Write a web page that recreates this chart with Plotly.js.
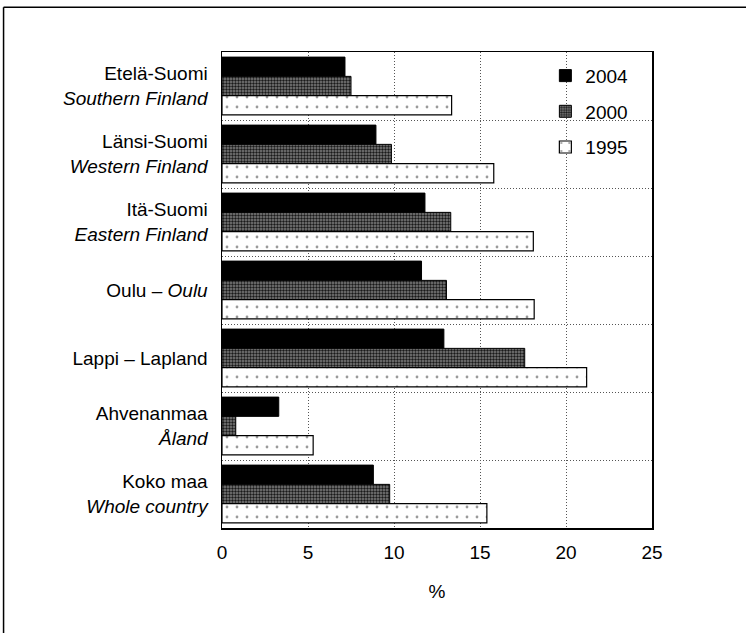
<!DOCTYPE html>
<html>
<head>
<meta charset="utf-8">
<script src="https://cdn.plot.ly/plotly-3.0.1.min.js"></script>
<style>html,body{margin:0;padding:0;background:#fff;}#chart{width:746px;height:633px;}</style>
</head>
<body>
<div id="chart"></div>
<script>
// Categories (top to bottom)
var categories = [
  "Etelä-Suomi<br><i>Southern Finland</i>",
  "Länsi-Suomi<br><i>Western Finland</i>",
  "Itä-Suomi<br><i>Eastern Finland</i>",
  "Oulu – <i>Oulu</i>",
  "Lappi – Lapland",
  "Ahvenanmaa<br><i>Åland</i>",
  "Koko maa<br><i>Whole country</i>"
];
var seriesNames = ["2004", "2000", "1995"];
var values2004 = [7.15, 8.95, 11.8, 11.6, 12.9, 3.3, 8.8];
var values2000 = [7.5, 9.85, 13.3, 13.05, 17.6, 0.8, 9.75];
var values1995 = [13.35, 15.8, 18.1, 18.15, 21.2, 5.3, 15.4];
var xTickVals = [0, 5, 10, 15, 20, 25];

var FONT = "Liberation Sans, Arial, Helvetica, sans-serif";

var traces = [
  {
    type: "bar", orientation: "h", name: seriesNames[0], legendgroup: "a",
    y: categories, x: values2004,
    marker: {color: "#000000", line: {color: "#000000", width: 1}}
  },
  {
    type: "bar", orientation: "h", name: seriesNames[1], legendgroup: "b",
    y: categories, x: values2000,
    marker: {color: "#6e6e6e", line: {color: "#000000", width: 1},
      pattern: {shape: ".", fgcolor: "#1a1a1a", bgcolor: "#7f7f7f", size: 3, solidity: 0.5}}
  },
  {
    type: "bar", orientation: "h", name: seriesNames[2], legendgroup: "c",
    y: categories, x: values1995,
    marker: {color: "#ffffff", line: {color: "#000000", width: 1.2},
      pattern: {shape: ".", fgcolor: "#9a9a9a", bgcolor: "#ffffff", size: 10, solidity: 0.06}}
  }
];

var layout = {
  width: 746, height: 633,
  margin: {l: 222, r: 94, t: 52, b: 105},
  paper_bgcolor: "#ffffff", plot_bgcolor: "#ffffff",
  font: {family: FONT, size: 19, color: "#000000"},
  barmode: "group", bargap: 0.15, bargroupgap: 0,
  showlegend: true,
  legend: {
    x: 0.752, y: 0.99, xanchor: "left", yanchor: "top",
    bgcolor: "rgba(0,0,0,0)", borderwidth: 0,
    font: {family: FONT, size: 19}, tracegroupgap: 8, itemwidth: 30
  },
  xaxis: {
    range: [0, 25], tickvals: xTickVals, ticktext: xTickVals.map(String),
    showgrid: true, gridcolor: "#555555", griddash: "1px,2px", gridwidth: 1,
    zeroline: false, showline: true, mirror: true, linecolor: "#000000", linewidth: 1.5,
    ticks: "", ticklabelstandoff: 7,
    title: {text: "%", standoff: 22, font: {family: FONT, size: 19}},
    automargin: false, fixedrange: true
  },
  yaxis: {
    type: "category", autorange: "reversed",
    tickson: "boundaries", ticks: "", showgrid: true,
    gridcolor: "#555555", griddash: "1px,2px", gridwidth: 1,
    showline: true, mirror: true, linecolor: "#000000", linewidth: 1.5,
    ticklabelstandoff: 9, automargin: false, fixedrange: true
  },
  shapes: [
    {type: "line", xref: "paper", yref: "paper", x0: -0.508, x1: 1.22, y0: 1.094, y1: 1.094,
      line: {color: "#000000", width: 1.5}},
    {type: "line", xref: "paper", yref: "paper", x0: -0.508, x1: -0.508, y0: 1.094, y1: -0.222,
      line: {color: "#000000", width: 1.5}}
  ]
};

Plotly.newPlot("chart", traces, layout, {displayModeBar: false, staticPlot: true});
</script>
</body>
</html>
